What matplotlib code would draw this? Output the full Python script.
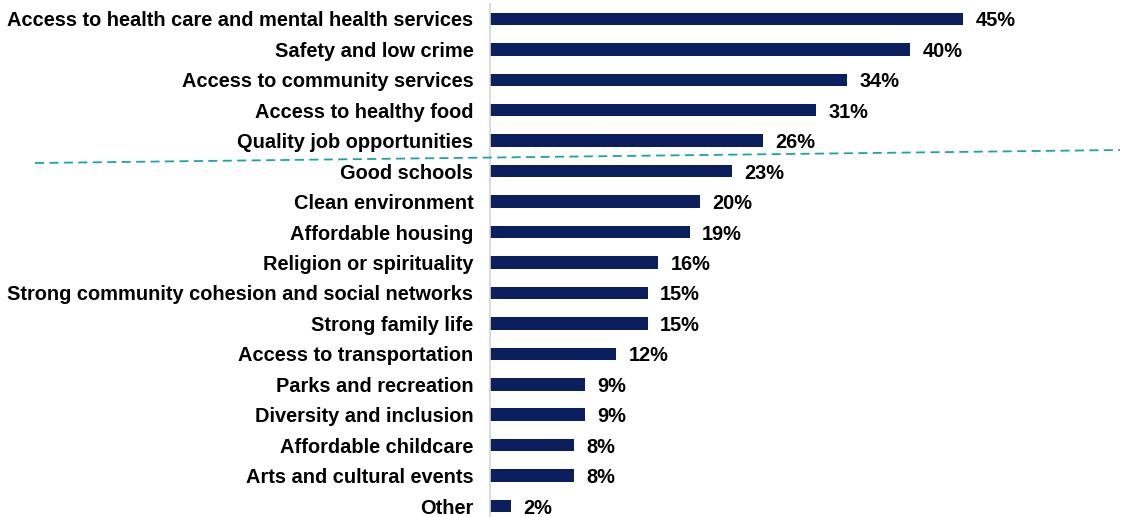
import matplotlib.pyplot as plt
from matplotlib.lines import Line2D

plt.rcParams['font.family'] = ['Liberation Sans', 'DejaVu Sans']

categories = [
    'Access to health care and mental health services',
    'Safety and low crime',
    'Access to community services',
    'Access to healthy food',
    'Quality job opportunities',
    'Good schools',
    'Clean environment',
    'Affordable housing',
    'Religion or spirituality',
    'Strong community cohesion and social networks',
    'Strong family life',
    'Access to transportation',
    'Parks and recreation',
    'Diversity and inclusion',
    'Affordable childcare',
    'Arts and cultural events',
    'Other',
]
percent = [45, 40, 34, 31, 26, 23, 20, 19, 16, 15, 15, 12, 9, 9, 8, 8, 2]

W, H = 1123, 517
fig = plt.figure(figsize=(W / 100, H / 100), dpi=100)
ax = fig.add_axes([490 / W, 0, (1110 - 490) / W, 513 / H])

y = list(range(len(categories)))
ax.barh(y, percent, height=0.41, color='#0b1f5e')

for yi, v in zip(y, percent):
    ax.annotate(f'{v}%', (v, yi), xytext=(9, 0), textcoords='offset points',
                va='center_baseline', ha='left', fontsize=14.4, fontweight='bold')

ax.set_yticks(y)
ax.set_yticklabels(categories, fontsize=14.4, fontweight='bold')
ax.tick_params(axis='y', length=0, pad=12)
ax.set_xticks([])
ax.set_xlim(0, 59)
ax.set_ylim(16.36, -0.49)

for side in ['top', 'right', 'bottom']:
    ax.spines[side].set_visible(False)
ax.spines['left'].set_color('#d4d4d4')
ax.spines['left'].set_linewidth(1.2)

# divider between the top five and the rest
fig.add_artist(Line2D([35 / W, 1120 / W], [1 - 163 / H, 1 - 150 / H],
                      transform=fig.transFigure, color='#17a7a0',
                      linestyle=(0, (5, 3)), linewidth=1.3))

fig.savefig('out.png', dpi=100)
